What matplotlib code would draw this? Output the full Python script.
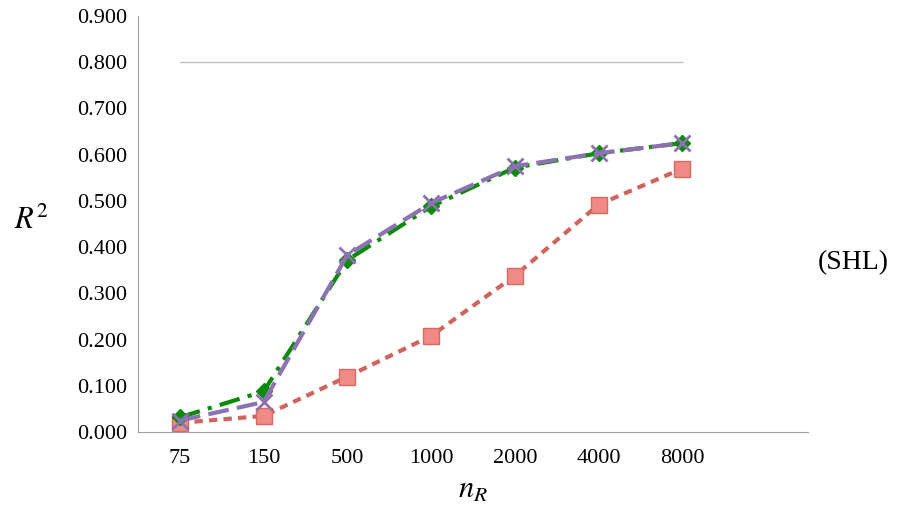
import numpy as np
import matplotlib.pyplot as plt

plt.rcParams['font.family'] = ['Liberation Serif', 'DejaVu Serif']
plt.rcParams['mathtext.fontset'] = 'stix'

categories = ["75", "150", "500", "1000", "2000", "4000", "8000"]
red_vals = [0.020, 0.035, 0.120, 0.208, 0.338, 0.492, 0.570]
green_vals = [0.032, 0.088, 0.372, 0.488, 0.572, 0.603, 0.625]
purple_vals = [0.025, 0.065, 0.383, 0.495, 0.575, 0.603, 0.625]
ref_vals = [0.800] * 7

x = np.arange(len(categories))

fig = plt.figure(figsize=(9.14, 5.15), dpi=100)
ax = fig.add_axes([0.151, 0.161, 0.733, 0.808])

ax.plot(x, ref_vals, color="#bfbfbf", lw=1)
ax.plot(x, red_vals, color="#d0635c", lw=3, ls=(0, (2, 1.5)), marker="s",
        ms=12, mfc="#f08a85", mec="#d86a64", zorder=3)
ax.plot(x, green_vals, color="#0a8a0a", lw=3, ls=(0, (5, 2, 1, 2)), marker="D",
        ms=8, mfc="#0a8a0a", mec="#0a8a0a", zorder=4)
ax.plot(x, purple_vals, color="#8c72b0", lw=3, ls=(0, (5, 2)), marker="x",
        ms=11, mew=2, zorder=5)

ax.set_xlim(-0.5, 7.5)
ax.set_ylim(0, 0.9)
ax.set_yticks(np.arange(0, 0.91, 0.1))
ax.set_yticklabels([f"{v:.3f}" for v in np.arange(0, 0.91, 0.1)], fontsize=16)
ax.set_xticks(x)
ax.set_xticklabels(categories, fontsize=16)
ax.tick_params(axis="x", length=0, pad=12)
ax.tick_params(axis="y", length=0, pad=8)
for s in ["top", "right"]:
    ax.spines[s].set_visible(False)
for s in ["left", "bottom"]:
    ax.spines[s].set_color("#a0a0a0")

ax.set_xlabel(r"$n_R$", fontsize=22, labelpad=6)
fig.text(0.015, 0.57, r"$R^2$", fontsize=22, va="center")
fig.text(0.895, 0.49, "(SHL)", fontsize=20, va="center")

fig.savefig("out.png", dpi=100)
